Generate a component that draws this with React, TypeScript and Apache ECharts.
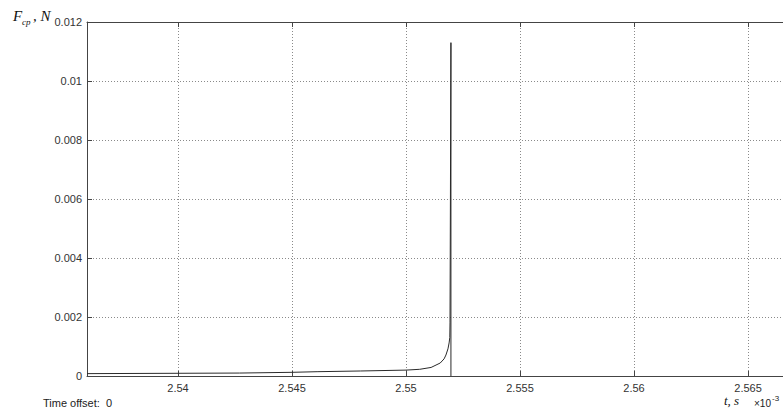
import React, { useEffect, useRef } from "react";
import * as echarts from "echarts";

// t (×10^-3 s)
const times = [2.53601, 2.5427, 2.545, 2.5461, 2.548, 2.55, 2.5506, 2.5511, 2.5515, 2.55167, 2.55175, 2.55184, 2.55189, 2.55192, 2.55193, 2.55197, 2.55197];
// F_cp, N
const values = [0.00008, 0.0001, 0.000125, 0.000146, 0.00017, 0.0002, 0.000227, 0.00029, 0.00044, 0.00058, 0.00071, 0.00092, 0.00112, 0.0013, 0.0018, 0.0113, 0];

const xMin = 2.53601;
const xMax = 2.56684;
const yMin = 0;
const yMax = 0.012;
const yStep = 0.002;

const LABEL_FONT = "'Liberation Sans', Arial, sans-serif";
const SERIF = "'Liberation Serif', 'DejaVu Serif', serif";
const FRAME = "#444";
const GRID = "#8a8a8a";

export default function App() {
  const ref = useRef<HTMLDivElement>(null);
  useEffect(() => {
    if (!ref.current) return;
    const chart = echarts.init(ref.current, undefined, { renderer: "svg" });
    const data = times.map((t, i) => [t, values[i]]);
    const axisCommon = {
      type: "value" as const,
      min: xMin,
      max: xMax,
      splitNumber: 6,
      axisLine: { show: true, lineStyle: { color: FRAME, width: 1 } },
      axisTick: { show: true, inside: true, length: 5, lineStyle: { color: FRAME } },
    };
    chart.setOption({
      animation: false,
      backgroundColor: "#fff",
      grid: { left: 87, top: 22, right: 10, bottom: 34, containLabel: false },
      xAxis: [
        {
          ...axisCommon,
          position: "bottom",
          axisLabel: {
            show: true,
            showMinLabel: false,
            showMaxLabel: false,
            margin: 6,
            color: "#333",
            fontSize: 11,
            fontFamily: LABEL_FONT,
          },
          splitLine: { show: true, lineStyle: { color: GRID, type: [1, 2], width: 1 } },
        },
        {
          ...axisCommon,
          position: "top",
          axisLabel: { show: false },
          splitLine: { show: false },
        },
      ],
      yAxis: {
        type: "value",
        min: yMin,
        max: yMax,
        interval: yStep,
        axisLine: { show: true, lineStyle: { color: FRAME, width: 1 } },
        axisTick: { show: true, inside: true, length: 5, lineStyle: { color: FRAME } },
        axisLabel: { margin: 5, color: "#333", fontSize: 11, fontFamily: LABEL_FONT },
        splitLine: { show: true, lineStyle: { color: GRID, type: [1, 2], width: 1 } },
      },
      series: [
        {
          type: "line",
          data,
          xAxisIndex: 0,
          showSymbol: false,
          symbol: "none",
          lineStyle: { color: "#2a2a2a", width: 1 },
        },
      ],
      graphic: [
        { type: "text", x: 13, y: 23, style: { text: "F", font: `italic 15px ${SERIF}`, fill: "#111", textVerticalAlign: "bottom" } },
        { type: "text", x: 22, y: 26, style: { text: "cp", font: `italic 9px ${SERIF}`, fill: "#111", textVerticalAlign: "bottom" } },
        { type: "text", x: 33, y: 23, style: { text: ", N", font: `italic 15px ${SERIF}`, fill: "#111", textVerticalAlign: "bottom" } },
        { type: "text", x: 724, y: 407, style: { text: "t, s", font: `italic 13px ${SERIF}`, fill: "#111", textVerticalAlign: "bottom" } },
        { type: "text", x: 754, y: 408, style: { text: "×10", font: `10px ${LABEL_FONT}`, fill: "#222", textVerticalAlign: "bottom" } },
        { type: "text", x: 772, y: 402, style: { text: "-3", font: `8px ${LABEL_FONT}`, fill: "#222", textVerticalAlign: "bottom" } },
        { type: "text", x: 43, y: 397, style: { text: "Time offset:  0", font: `11px ${LABEL_FONT}`, fill: "#222", textVerticalAlign: "top" } },
      ],
    });
    return () => chart.dispose();
  }, []);
  return (
    <div style={{ position: "fixed", left: 0, top: 0, width: 783, height: 410, overflow: "hidden", background: "#fff" }}>
      <div ref={ref} style={{ width: 800, height: 410 }} />
    </div>
  );
}
